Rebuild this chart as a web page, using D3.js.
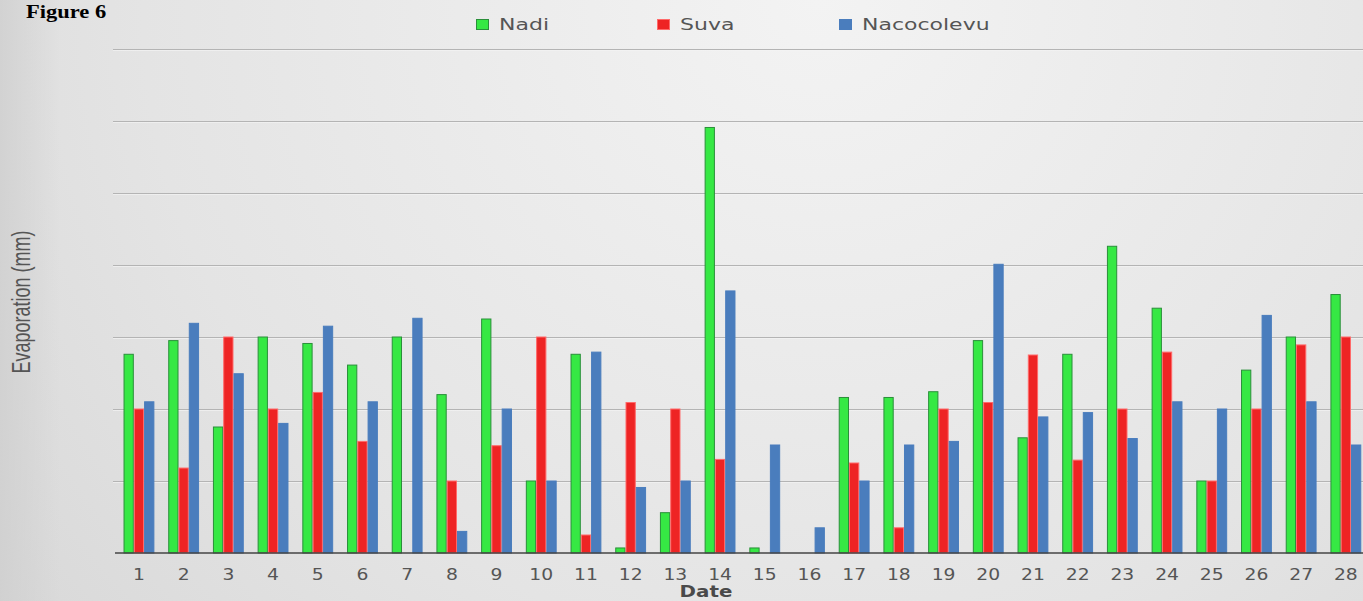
<!DOCTYPE html>
<html>
<head>
<meta charset="utf-8">
<script src="https://cdn.jsdelivr.net/npm/d3@7"></script>
<style>
  html, body { margin: 0; padding: 0; overflow: hidden; background: #e4e4e4; }
  svg { display: block; }
</style>
</head>
<body>
<svg id="chart" width="1363" height="601"></svg>
<script>
// Daily evaporation (mm) at three stations, days 1–28
const dates = d3.range(1, 29);
const seriesNames = ["Nadi", "Suva", "Nacocolevu"];
const nadi = [2.76, 2.95, 1.75, 3.0, 2.91, 2.61, 3.0, 2.2, 3.25, 1.0, 2.76, 0.07, 0.56, 5.91,
              0.07, 0, 2.16, 2.16, 2.24, 2.95, 1.6, 2.76, 4.26, 3.4, 1.0, 2.54, 3.0, 3.59];
const suva = [2.0, 1.18, 3.0, 2.0, 2.23, 1.55, 0, 1.0, 1.49, 3.0, 0.25, 2.09, 2.0, 1.3,
              0, 0, 1.25, 0.35, 2.0, 2.09, 2.75, 1.29, 2.0, 2.79, 1.0, 2.0, 2.89, 3.0];
const nacocolevu = [2.1, 3.19, 2.49, 1.8, 3.15, 2.1, 3.26, 0.3, 2.0, 1.0, 2.79, 0.91, 1.0, 3.64,
                    1.5, 0.35, 1.0, 1.5, 1.55, 4.01, 1.89, 1.95, 1.59, 2.1, 2.0, 3.3, 2.1, 1.5];
const gridValues = [1, 2, 3, 4, 5, 6, 7];

const values = { Nadi: nadi, Suva: suva, Nacocolevu: nacocolevu };
const fills = { Nadi: "#36e844", Suva: "#ee2424", Nacocolevu: "#4a7dbd" };
const strokes = { Nadi: "#2a8f3a", Suva: "#ff6a6a", Nacocolevu: "#4a7dbd" };

const svg = d3.select("#chart");
const W = 1363, H = 601;

// background shading
const defs = svg.append("defs");
const bg = defs.append("radialGradient").attr("id", "bg")
  .attr("cx", "0.6").attr("cy", "0.0").attr("r", "0.9")
  .attr("gradientTransform", "translate(0.6,0) scale(1,2.2) translate(-0.6,0)");
bg.append("stop").attr("offset", "0").attr("stop-color", "#f3f3f3");
bg.append("stop").attr("offset", "0.55").attr("stop-color", "#e4e4e4");
bg.append("stop").attr("offset", "1").attr("stop-color", "#d2d2d2");
svg.append("rect").attr("width", W).attr("height", H).attr("fill", "url(#bg)");
const edge = defs.append("linearGradient").attr("id", "edge").attr("x1", 0).attr("x2", 1);
edge.append("stop").attr("offset", "0").attr("stop-color", "#cfcfcf").attr("stop-opacity", 0.8);
edge.append("stop").attr("offset", "1").attr("stop-color", "#cfcfcf").attr("stop-opacity", 0);
svg.append("rect").attr("width", 60).attr("height", H).attr("fill", "url(#edge)");

// scales
const x0 = d3.scaleBand().domain(dates).range([116.6, 1368.2]).paddingInner(0.31).paddingOuter(0.155);
const x1 = d3.scaleBand().domain(seriesNames).range([0, x0.bandwidth()]).padding(0);
const y = d3.scaleLinear().domain([0, 7]).range([553, 49]);

// gridlines
const grid = svg.append("g");
grid.selectAll("line.g").data(gridValues).join("line")
  .attr("x1", 113).attr("x2", W)
  .attr("y1", d => Math.round(y(d)) + 0.5).attr("y2", d => Math.round(y(d)) + 0.5)
  .attr("stroke", "#b4b4b4").attr("stroke-width", 1);
grid.selectAll("line.h").data(gridValues).join("line")
  .attr("x1", 113).attr("x2", W)
  .attr("y1", d => Math.round(y(d)) + 1.5).attr("y2", d => Math.round(y(d)) + 1.5)
  .attr("stroke", "#f4f4f4").attr("stroke-width", 1).attr("opacity", 0.7);

// bars
const groups = svg.append("g").selectAll("g").data(dates).join("g")
  .attr("transform", d => `translate(${x0(d)},0)`);
groups.selectAll("rect").data((d, i) => seriesNames.map(s => ({ s, v: values[s][i] })))
  .join("rect")
  .filter(d => d.v > 0)
  .attr("x", d => x1(d.s) + 0.5)
  .attr("width", x1.bandwidth() - 1)
  .attr("y", d => y(d.v))
  .attr("height", d => y(0) - y(d.v))
  .attr("fill", d => fills[d.s])
  .attr("stroke", d => strokes[d.s])
  .attr("stroke-width", 1);

// axis baseline and date labels
const xAxis = svg.append("g").attr("transform", `translate(0,${y(0)})`)
  .call(d3.axisBottom(x0).tickSize(0).tickPadding(0));
xAxis.select(".domain").attr("stroke", "#444").attr("stroke-width", 1.6)
  .attr("d", `M115,0H${W}`);
xAxis.selectAll(".tick text").each(function () {
  d3.select(this).attr("y", 0).attr("dy", null)
   .attr("transform", "translate(0,27) scale(1.25,1)")
   .attr("font-family", "DejaVu Sans, sans-serif").attr("font-size", 15)
   .attr("fill", "#555").attr("text-anchor", "middle");
});

// axis titles
svg.append("text")
  .attr("transform", "translate(706,597) scale(1.24,1)")
  .attr("text-anchor", "middle")
  .attr("font-family", "DejaVu Sans, sans-serif").attr("font-weight", "bold")
  .attr("font-size", 16).attr("fill", "#4a4a4a").text("Date");

svg.append("text")
  .attr("transform", "translate(30,302) rotate(-90) scale(1,1.45)")
  .attr("text-anchor", "middle")
  .attr("font-family", "Liberation Sans, Arial, sans-serif")
  .attr("font-size", 18).attr("fill", "#555").text("Evaporation (mm)");

// figure label
svg.append("text")
  .attr("transform", "translate(26,18) scale(1.25,1)")
  .attr("font-family", "Liberation Serif, Times New Roman, serif")
  .attr("font-weight", "bold").attr("font-size", 18).attr("fill", "#000")
  .text("Figure 6");

// legend
const legendX = { Nadi: 476, Suva: 657, Nacocolevu: 839 };
const legend = svg.append("g").selectAll("g").data(seriesNames).join("g")
  .attr("transform", d => `translate(${legendX[d]},19)`);
legend.append("rect").attr("x", 0.5).attr("y", 0.5).attr("width", 12).attr("height", 10)
  .attr("fill", d => fills[d]).attr("stroke", d => strokes[d]).attr("stroke-width", 1);
legend.append("text")
  .attr("transform", "translate(23,11) scale(1.42,1)")
  .attr("font-family", "DejaVu Sans, sans-serif").attr("font-size", 15.5)
  .attr("fill", "#555").text(d => d);
</script>
</body>
</html>
